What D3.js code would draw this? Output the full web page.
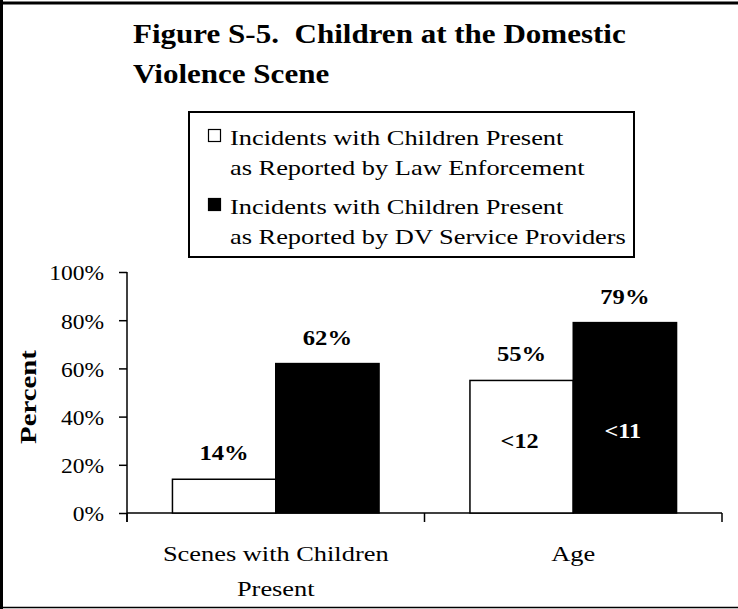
<!DOCTYPE html>
<html>
<head>
<meta charset="utf-8">
<script src="https://cdn.jsdelivr.net/npm/d3@7"></script>
<style>
  html, body { margin: 0; padding: 0; background: #fff; }
  svg { display: block; }
  text { font-family: "Liberation Serif", "Times New Roman", serif; fill: #000; }
</style>
</head>
<body>
<svg width="738" height="609"></svg>
<script>

const titleLines = ['Figure S-5.  Children at the Domestic', 'Violence Scene'];
const categories = ['Scenes with Children Present', 'Age'];
const categoryLines = [['Scenes with Children', 'Present'], ['Age']];
const seriesKeys = ['law', 'dv'];
const seriesLegend = [
  ['Incidents with Children Present', 'as Reported by Law Enforcement'],
  ['Incidents with Children Present', 'as Reported by DV Service Providers']
];
const lawValues = [14, 55];
const dvValues = [62, 79];
const lawNotes = ['', '<12'];
const dvNotes = ['', '<11'];
const yTicks = [0, 20, 40, 60, 80, 100];

const svg = d3.select('svg');
const width = 738;
const height = 609;

// the source image is stretched sideways, so text gets a horizontal scale
const stretch = (sel, x, y, sx) => sel.attr('x', 0).attr('y', 0)
  .attr('transform', `translate(${x},${y}) scale(${sx},1)`);

const data = categories.map((c, i) => ({
  category: c,
  lines: categoryLines[i],
  values: [
    { key: 'law', value: lawValues[i], note: lawNotes[i] },
    { key: 'dv', value: dvValues[i], note: dvNotes[i] }
  ]
}));

const fill = d3.scaleOrdinal().domain(seriesKeys).range(['#fff', '#000']);

const x0 = d3.scaleBand()
  .domain(categories)
  .range([127, 722]);

const x1 = d3.scaleBand()
  .domain(seriesKeys)
  .range([0, x0.bandwidth()])
  .paddingOuter(0.44);

const y = d3.scaleLinear()
  .domain([0, 100])
  .range([513, 272]);

// frame
svg.append('line').attr('x1', 0).attr('x2', width).attr('y1', 3).attr('y2', 3)
  .attr('stroke', '#000').attr('stroke-width', 3);
svg.append('line').attr('x1', 1.5).attr('x2', 1.5).attr('y1', 0).attr('y2', height)
  .attr('stroke', '#000').attr('stroke-width', 3);
svg.append('line').attr('x1', 0).attr('x2', width).attr('y1', 607.5).attr('y2', 607.5)
  .attr('stroke', '#000').attr('stroke-width', 1.5);

// title
svg.append('g')
  .selectAll('text')
  .data(titleLines)
  .enter()
  .append('text')
    .style('white-space', 'pre')
    .attr('font-size', 27)
    .attr('font-weight', 'bold')
    .text(d => d)
    .each(function (d, i) { stretch(d3.select(this), 133, 43 + i * 40, 1.15); });

// legend
const legend = svg.append('g').attr('class', 'legend');
legend.append('rect')
  .attr('x', 189).attr('y', 112)
  .attr('width', 445).attr('height', 145)
  .attr('fill', '#fff').attr('stroke', '#000').attr('stroke-width', 2);

const legendItems = legend.selectAll('.legend-item')
  .data(seriesKeys)
  .enter()
  .append('g')
    .attr('class', 'legend-item')
    .attr('transform', (d, i) => `translate(0, ${i * 69})`);

legendItems.append('rect')
  .attr('x', 208.5).attr('y', 129.5)
  .attr('width', 12).attr('height', 12)
  .attr('fill', d => fill(d))
  .attr('stroke', '#000').attr('stroke-width', 1.2);

legendItems.each(function (d, i) {
  d3.select(this).selectAll('text')
    .data(seriesLegend[i])
    .enter()
    .append('text')
      .attr('font-size', 22)
      .text(t => t)
      .each(function (t, j) { stretch(d3.select(this), 230, 145 + j * 30, 1.2); });
});

// axes
const yAxis = d3.axisLeft(y)
  .tickValues(yTicks)
  .tickSize(8)
  .tickFormat(d => d + '%');

const yAxisG = svg.append('g')
  .attr('transform', 'translate(127,0)')
  .call(yAxis);

yAxisG.select('.domain').remove();
yAxisG.selectAll('line').attr('stroke-width', 1.5);
yAxisG.selectAll('text')
  .attr('font-size', 21)
  .attr('font-family', '"Liberation Serif", "Times New Roman", serif')
  .attr('x', -23 / 1.12)
  .attr('dy', '0.38em')
  .attr('transform', 'scale(1.12,1)');

svg.append('line')
  .attr('x1', 127).attr('x2', 127)
  .attr('y1', y(100)).attr('y2', y(0) + 9)
  .attr('stroke', '#000').attr('stroke-width', 1.5);

svg.append('line')
  .attr('x1', 127).attr('x2', 722)
  .attr('y1', y(0)).attr('y2', y(0))
  .attr('stroke', '#000').attr('stroke-width', 1.5);

const boundaries = categories.map(c => x0(c)).concat(x0.range()[1]);
svg.append('g')
  .selectAll('line')
  .data(boundaries)
  .enter()
  .append('line')
    .attr('x1', d => d).attr('x2', d => d)
    .attr('y1', y(0)).attr('y2', y(0) + 9)
    .attr('stroke', '#000').attr('stroke-width', 1.5);

// y axis title
svg.append('text')
  .attr('font-size', 24)
  .attr('font-weight', 'bold')
  .attr('text-anchor', 'middle')
  .attr('transform', 'translate(36,397) rotate(-90) scale(1.2,1)')
  .text('Percent');

// bars
const groups = svg.append('g')
  .selectAll('.group')
  .data(data)
  .enter()
  .append('g')
    .attr('class', 'group')
    .attr('transform', d => `translate(${x0(d.category)},0)`);

groups.selectAll('rect')
  .data(d => d.values)
  .enter()
  .append('rect')
    .attr('x', d => x1(d.key))
    .attr('y', d => y(d.value))
    .attr('width', x1.bandwidth())
    .attr('height', d => y(0) - y(d.value))
    .attr('fill', d => fill(d.key))
    .attr('stroke', '#000')
    .attr('stroke-width', 1.5);

groups.selectAll('.value-label')
  .data(d => d.values)
  .enter()
  .append('text')
    .attr('class', 'value-label')
    .attr('font-size', 22)
    .attr('font-weight', 'bold')
    .attr('text-anchor', 'middle')
    .text(d => d.value + '%')
    .each(function (d) {
      stretch(d3.select(this), x1(d.key) + x1.bandwidth() / 2, y(d.value) - 19, 1.12);
    });

// notes inside the age bars
const noteLevel = { law: 27, dv: 31 };
groups.selectAll('.note')
  .data(d => d.values.filter(v => v.note))
  .enter()
  .append('text')
    .attr('class', 'note')
    .attr('font-size', 22)
    .attr('font-weight', 'bold')
    .attr('text-anchor', 'middle')
    .style('fill', d => d.key === 'dv' ? '#fff' : '#000')
    .text(d => d.note)
    .each(function (d) {
      stretch(d3.select(this), x1(d.key) + x1.bandwidth() / 2 - 2, y(noteLevel[d.key]), 1.1);
    });

// category labels
groups.each(function (d) {
  d3.select(this).selectAll('.cat-label')
    .data(d.lines)
    .enter()
    .append('text')
      .attr('class', 'cat-label')
      .attr('font-size', 22)
      .attr('text-anchor', 'middle')
      .text(t => t)
      .each(function (t, j) { stretch(d3.select(this), x0.bandwidth() / 2, 561 + j * 35, 1.2); });
});

</script>
</body>
</html>
